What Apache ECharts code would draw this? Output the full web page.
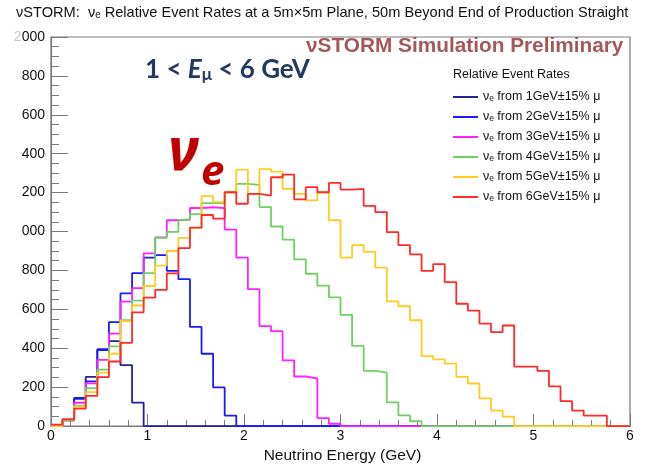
<!DOCTYPE html>
<html>
<head>
<meta charset="utf-8">
<title>nuSTORM nu_e event rates</title>
<script src="https://cdn.jsdelivr.net/npm/echarts@6/dist/echarts.min.js"></script>
<style>
  html, body { margin: 0; padding: 0; background: #fff; }
  #main { width: 645px; height: 469px; }
</style>
</head>
<body>
<div id="main"></div>
<script>
// 50 bins of 0.12 GeV from 0 to 6 GeV
var binWidth = 0.12;
var muonEnergies = [1, 2, 3, 4, 5, 6];
var lineColors = ['#22229a', '#1a1aff', '#ff22ff', '#6fd162', '#ffcc22', '#ff2a2a'];

var rate1GeV = [0, 30, 145, 253, 391, 437, 313, 121, 0, 0,
  0, 0, 0, 0, 0, 0, 0, 0, 0, 0,
  0, 0, 0, 0, 0, 0, 0, 0, 0, 0,
  0, 0, 0, 0, 0, 0, 0, 0, 0, 0,
  0, 0, 0, 0, 0, 0, 0, 0, 0, 0];
var rate2GeV = [0, 35, 140, 230, 395, 534, 682, 786, 866, 879,
  798, 755, 510, 372, 199, 54, 0, 0, 0, 0,
  0, 0, 0, 0, 0, 0, 0, 0, 0, 0,
  0, 0, 0, 0, 0, 0, 0, 0, 0, 0,
  0, 0, 0, 0, 0, 0, 0, 0, 0, 0];
var rate3GeV = [0, 30, 120, 220, 340, 475, 640, 709, 888, 970,
  1058, 1062, 1121, 1125, 1120, 1010, 866, 704, 514, 488,
  338, 255, 245, 41, 12, 0, 0, 0, 0, 0,
  0, 0, 0, 0, 0, 0, 0, 0, 0, 0,
  0, 0, 0, 0, 0, 0, 0, 0, 0, 0];
var rate4GeV = [0, 30, 105, 195, 290, 410, 545, 645, 786, 968,
  998, 1060, 1090, 1146, 1146, 1202, 1245, 1240, 1126, 1026,
  959, 857, 783, 722, 662, 572, 412, 284, 275, 122,
  55, 25, 0, 0, 0, 0, 0, 0, 0, 0,
  0, 0, 0, 0, 0, 0, 0, 0, 0, 0];
var rate5GeV = [0, 35, 100, 175, 275, 372, 540, 620, 720, 825,
  900, 968, 1019, 1182, 1151, 1202, 1318, 1194, 1321, 1308,
  1219, 1194, 1160, 1202, 1058, 866, 930, 896, 815, 641,
  616, 544, 360, 343, 321, 253, 219, 143, 80, 49,
  0, 0, 0, 0, 0, 0, 0, 0, 0, 0];
var rate6GeV = [8, 35, 90, 155, 252, 332, 428, 585, 660, 700,
  785, 915, 1020, 1085, 1066, 1202, 1143, 1194, 1185, 1279,
  1293, 1165, 1228, 1202, 1250, 1216, 1219, 1132, 1100, 997,
  930, 883, 798, 833, 740, 629, 594, 527, 483, 517,
  306, 306, 284, 204, 128, 80, 54, 54, 0, 0];
var allRates = [rate1GeV, rate2GeV, rate3GeV, rate4GeV, rate5GeV, rate6GeV];

var yTicks = { min: 0, max: 2000, step: 200 };
var xTicks = { min: 0, max: 6, step: 1 };

var myChart = echarts.init(document.getElementById('main'));

// histogram outline: one point per bin edge, drawn as steps
function histPoints(rates) {
  var pts = [];
  for (var k = 0; k < rates.length; k++) {
    pts.push([+(k * binWidth).toFixed(2), rates[k]]);
  }
  pts.push([+(rates.length * binWidth).toFixed(2), rates[rates.length - 1]]);
  return pts;
}

var names = muonEnergies.map(function (e) { return 'νₑ from ' + e + 'GeV±15% μ'; });

var series = allRates.map(function (rates, i) {
  return {
    name: names[i],
    type: 'line',
    step: 'end',
    symbol: 'none',
    data: histPoints(rates),
    lineStyle: { color: lineColors[i], width: 1.8 },
    itemStyle: { color: lineColors[i] },
    z: 2 + i
  };
});

var font = 'Liberation Sans, Arial, sans-serif';
var gridLine = '#7a7a7a';

var option = {
  backgroundColor: '#fff',
  animation: false,
  grid: { left: 51, right: 15, top: 37, bottom: 40, show: true, borderColor: gridLine, borderWidth: 1.2 },
  legend: {
    data: names,
    orient: 'vertical',
    left: 453,
    top: 90,
    padding: 0,
    icon: 'rect',
    itemWidth: 25,
    itemHeight: 2,
    itemGap: 6,
    textStyle: { fontFamily: font, fontSize: 12.5, color: '#111', lineHeight: 14 }
  },
  xAxis: {
    type: 'value',
    min: xTicks.min,
    max: xTicks.max,
    interval: xTicks.step,
    name: 'Neutrino Energy (GeV)',
    nameLocation: 'middle',
    nameGap: 20,
    nameTextStyle: { fontFamily: font, fontSize: 15.5, color: '#111', padding: [0, 0, 0, 4] },
    axisLine: { lineStyle: { color: gridLine, width: 1.2 } },
    axisTick: { inside: true, length: 12, lineStyle: { color: gridLine } },
    minorTick: { show: true, splitNumber: 5, length: 6, lineStyle: { color: gridLine } },
    axisLabel: { fontFamily: font, fontSize: 14, color: '#111', margin: 3 },
    splitLine: { show: false }
  },
  yAxis: {
    type: 'value',
    min: yTicks.min,
    max: yTicks.max,
    interval: yTicks.step,
    axisLine: { show: true, lineStyle: { color: gridLine, width: 1.2 } },
    axisTick: { inside: true, length: 17, lineStyle: { color: gridLine } },
    minorTick: { show: true, splitNumber: 4, length: 8, lineStyle: { color: gridLine } },
    axisLabel: {
      fontFamily: font, fontSize: 14, color: '#111', margin: 6,
      // the leading digit of the thousands is cut off in the original picture
      formatter: function (v) {
        if (v >= 1000 && v < 2000) return '{h|1}{n|' + String(v).slice(1) + '}';
        if (v === 2000) return '{p|2}{n|000}';
        return '{n|' + v + '}';
      },
      rich: {
        n: { fontFamily: font, fontSize: 14, color: '#111' },
        h: { fontFamily: font, fontSize: 14, color: 'rgba(0,0,0,0)' },
        p: { fontFamily: font, fontSize: 14, color: '#c8c8c8' }
      }
    },
    splitLine: { show: false }
  },
  graphic: [
    {
      type: 'text', left: 16, top: 5,
      style: { text: 'νSTORM:  νₑ Relative Event Rates at a 5m×5m Plane, 50m Beyond End of Production Straight',
        font: '14.6px ' + font, fill: '#111' }
    },
    {
      type: 'text', left: 306, top: 36,
      style: { text: 'νSTORM Simulation Preliminary', font: 'bold 20.8px ' + font, fill: '#a4585a' }
    },
    {
      type: 'text', left: 453, top: 68,
      style: { text: 'Relative Event Rates', font: '12.5px ' + font, fill: '#111' }
    },
    {
      type: 'text', left: 145, top: 52,
      style: {
        text: '{b|1 < }{i|E}{s|μ}{b| < 6 GeV}',
        rich: {
          b: { font: 'bold 26px Lato, sans-serif', fill: '#223a5e', lineHeight: 26 },
          i: { font: 'italic bold 26px Lato, sans-serif', fill: '#223a5e', lineHeight: 26 },
          s: { font: 'bold 17px Lato, sans-serif', fill: '#223a5e', lineHeight: 17, padding: [14, 0, 0, 0], verticalAlign: 'bottom' }
        }
      }
    },
    {
      type: 'text', x: 168, y: 153,
      style: { text: 'ν', font: 'italic bold 60px "Noto Sans", sans-serif', fill: '#c00000', verticalAlign: 'middle' }
    },
    {
      type: 'text', x: 201, y: 173,
      style: { text: 'e', font: 'italic bold 42px "Noto Sans", sans-serif', fill: '#c00000', verticalAlign: 'middle' }
    }
  ],
  series: series
};

myChart.setOption(option);
</script>
</body>
</html>
